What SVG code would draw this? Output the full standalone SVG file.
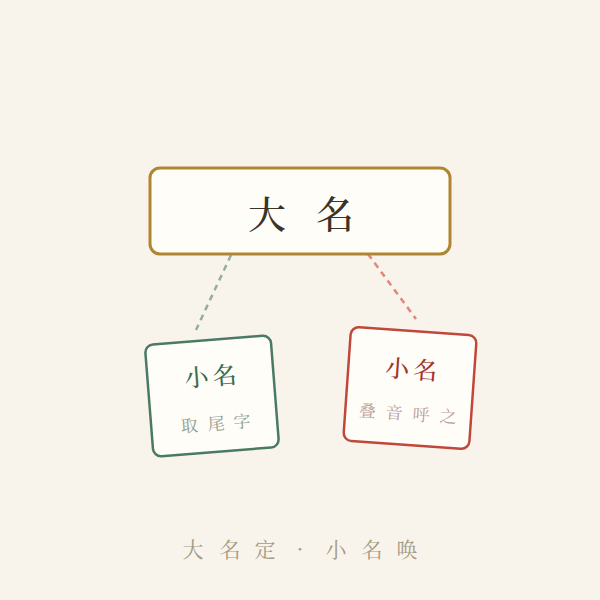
<svg xmlns="http://www.w3.org/2000/svg" width="600" height="600" viewBox="0 0 600 600">
<style>
.cjk{font-family:"Noto Serif CJK SC","Noto Sans CJK SC",serif;text-anchor:middle}
.card{fill:#fffdf8;stroke-width:2.5}
.conn{fill:none;stroke-width:2.5;stroke-dasharray:6 5}
</style>
<rect width="600" height="600" fill="#f8f4ec"/>
<g id="connectors">
<line class="conn" x1="231" y1="255" x2="196" y2="330" stroke="#93ae9e"/>
<line class="conn" x1="368" y1="254" x2="416" y2="319" stroke="#e0877a"/>
</g>
<g id="node-daming">
<rect x="150" y="168" width="300" height="86" rx="10" fill="#fffdf8" stroke="#b08532" stroke-width="3"/>
<text class="cjk" font-size="38" fill="#3a3328" font-weight="500"><tspan x="267" y="228">大</tspan><tspan x="335" y="228">名</tspan></text>
</g>
<g id="node-left" transform="translate(212,396) rotate(-4.5)">
<rect class="card" x="-63" y="-56" width="126" height="112" rx="8" stroke="#4b7a64"/>
<text class="cjk" font-size="24" fill="#3d6b52" font-weight="500"><tspan x="-14" y="-11">小</tspan><tspan x="14" y="-11">名</tspan></text>
<text class="cjk" font-size="17" fill="#8d9b90"><tspan x="-25" y="34">取</tspan><tspan x="2" y="34">尾</tspan><tspan x="28" y="34">字</tspan></text>
</g>
<g id="node-right" transform="translate(410,388) rotate(4)">
<rect class="card" x="-63" y="-57" width="126" height="114" rx="8" stroke="#c0473a"/>
<text class="cjk" font-size="24" fill="#a0352a" font-weight="500"><tspan x="-14" y="-10">小</tspan><tspan x="14" y="-10">名</tspan></text>
<text class="cjk" font-size="17" fill="#b99b95"><tspan x="-41" y="32">叠</tspan><tspan x="-14" y="32">音</tspan><tspan x="13" y="32">呼</tspan><tspan x="40" y="32">之</tspan></text>
</g>
<g id="footer">
<text class="cjk" font-size="21" fill="#a59a82"><tspan x="193" y="557">大</tspan><tspan x="230" y="557">名</tspan><tspan x="265" y="557">定</tspan><tspan x="300" y="557">·</tspan><tspan x="336" y="557">小</tspan><tspan x="372" y="557">名</tspan><tspan x="407" y="557">唤</tspan></text>
</g>
</svg>
